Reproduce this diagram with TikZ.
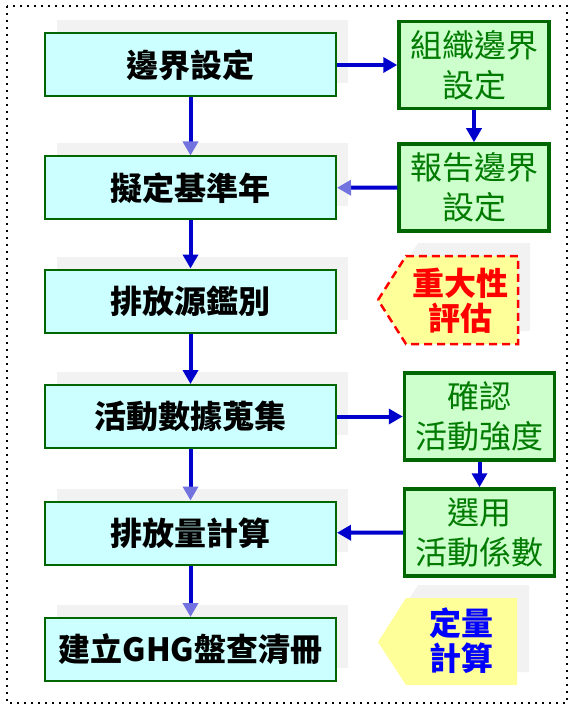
\documentclass[tikz,border=0pt]{standalone}
\usepackage{fontspec}
\newfontfamily\cjk{Noto Sans CJK TC}
\usetikzlibrary{arrows.meta,shadows}
\definecolor{flowblue}{HTML}{0000CC}
\definecolor{fadeblue}{HTML}{7373DF}
\definecolor{boxgreen}{HTML}{006600}
\definecolor{textgreen}{HTML}{007A00}
\definecolor{cyanfill}{HTML}{CCFFFF}
\definecolor{greenfill}{HTML}{CCFFCC}
\definecolor{tagyellow}{HTML}{FFFF99}
\definecolor{shadowgray}{HTML}{F2F2F2}

\begin{document}
\begin{tikzpicture}[
		x=1pt, y=-1pt,
		every node/.style={font=\cjk},
		stepbox/.style={rectangle, draw=boxgreen, fill=cyanfill, line width=2pt, minimum width=291pt, minimum height=63pt, inner sep=0pt, font=\cjk\bfseries\fontsize{32}{36}\selectfont, general shadow={fill=shadowgray, shadow xshift=12pt, shadow yshift=13pt}},
		subbox/.style={rectangle, draw=boxgreen, fill=greenfill, line width=3.5pt, minimum width=150pt, minimum height=87pt, inner sep=0pt, align=center, text=textgreen, font=\cjk\fontsize{32}{40}\selectfont},
		tagtext/.style={align=center, inner sep=0pt, font=\cjk\bfseries\fontsize{32}{35}\selectfont},
		flow/.style={draw=flowblue, line width=4pt, -{Triangle[length=14pt, width=15pt]}},
		faded/.style={-{Triangle[length=14pt, width=15pt, color=fadeblue]}}
	]
  \useasboundingbox (0,0) rectangle (580,711);
  \draw[line width=1.8pt, dash pattern=on 1.8pt off 5.2pt] (7,6) rectangle (567,703);

  % main steps
  \node (b1) [stepbox] at (190.5, 65) {邊界設定};
  \node (b2) [stepbox] at (190.5, 188) {擬定基準年};
  \node (b3) [stepbox] at (190.5, 301) {排放源鑑別};
  \node (b4) [stepbox] at (190.5, 416.5) {活動數據蒐集};
  \node (b5) [stepbox] at (190.5, 533) {排放量計算};
  \node (b6) [stepbox] at (190.5, 649.5) {建立GHG盤查清冊};

  % side steps
  \node (g1) [subbox] at (474, 65) {組織邊界\\設定};
  \node (g2) [subbox] at (474, 187.5) {報告邊界\\設定};
  \node (g3) [subbox] at (479.5, 416.5) {確認\\活動強度};
  \node (g4) [subbox] at (479.5, 532.5) {選用\\活動係數};

  % tags
  \fill[shadowgray, shift={(12,-13)}] (378,300) -- (406,256) -- (518,256) -- (518,344) -- (406,344) -- cycle;
  \draw[red, fill=tagyellow, line width=2.5pt, dash pattern=on 8pt off 5pt] (378,300) -- (406,256) -- (518,256) -- (518,344) -- (406,344) -- cycle;
  \node (t1) [tagtext, text=red] at (460, 301) {重大性\\評估};
  \fill[shadowgray, shift={(12,-13)}] (378,642) -- (406,598) -- (517,598) -- (517,685) -- (406,685) -- cycle;
  \fill[tagyellow] (378,642) -- (406,598) -- (517,598) -- (517,685) -- (406,685) -- cycle;
  \node (t2) [tagtext, text=blue] at (461, 641) {定量\\計算};

  \draw[flow, faded] (b1) -- (b2);
  \draw[flow] (b2) -- (b3);
  \draw[flow] (b3) -- (b4);
  \draw[flow, faded] (b4) -- (b5);
  \draw[flow, faded] (b5) -- (b6);

  \draw[flow] (b1) -- (g1);
  \draw[flow] (g1) -- (g2);
  \draw[flow, faded] (g2) -- (b2);
  \draw[flow] (b4) -- (g3);
  \draw[flow] (g3) -- (g4);
  \draw[flow] (g4) -- (b5);
\end{tikzpicture}
\end{document}
